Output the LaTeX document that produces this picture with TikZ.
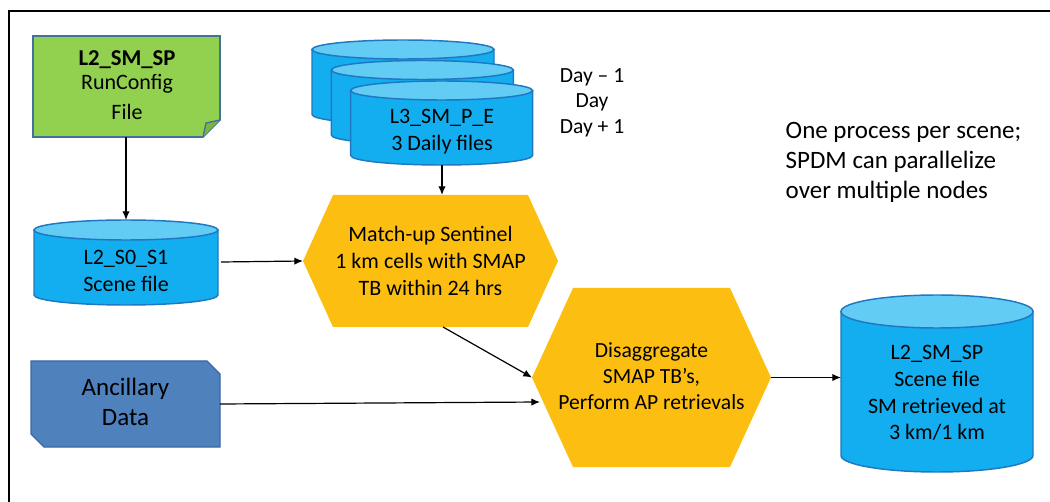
\documentclass[tikz,border=0pt]{standalone}
\usepackage{fontspec}
\setmainfont{Carlito}
\usepackage{tikz}
\usetikzlibrary{arrows.meta}
\definecolor{NoteGreen}{HTML}{92D050}
\definecolor{FoldGreen}{HTML}{7DB33F}
\definecolor{EdgeBlue}{HTML}{41719C}
\definecolor{DiskBody}{HTML}{13AEEF}
\definecolor{DiskTop}{HTML}{63CCF5}
\definecolor{DiskEdge}{HTML}{1F78C1}
\definecolor{HexGold}{HTML}{FCBF11}
\definecolor{AncBlue}{HTML}{4F81BD}
\definecolor{AncEdge}{HTML}{3A68A6}

\begin{document}
\begin{tikzpicture}[x=0.75pt,y=0.75pt,
  arr/.style={-{Latex[length=6.5pt,width=5.5pt]},line width=0.9pt},
  lbl/.style={align=center,font=\fontsize{16.5}{20}\selectfont},
  big/.style={font=\fontsize{18.75}{22.5}\selectfont},
  disk/.style={draw=DiskEdge,line width=1.1pt}]
\useasboundingbox (0,0) rectangle (1050,-502);
%%frame
\draw[line width=1.2pt] (1050,-11) -- (9,-11) -- (9,-502);

%%RunConfig note
\draw[draw=EdgeBlue,line width=1.2pt,fill=NoteGreen] (33,-36) -- (220,-36) -- (220,-120) -- (203,-137) -- (33,-137) -- cycle;
\draw[draw=EdgeBlue,line width=1pt,fill=FoldGreen] (220,-120) -- (206,-123) -- (203,-137);
\node[lbl] (cfg) at (127,-85) {{\fontsize{17}{20}\selectfont\bfseries L2\_SM\_SP}\\[-2pt]RunConfig\\[2pt]File};
\coordinate (cfgbot) at (126,-137);

%%L2_S0_S1 disk
\draw[disk,fill=DiskBody] (34,-230) -- (34,-295) arc[start angle=180,end angle=360,x radius=92,y radius=10] -- (218,-230) -- cycle;
\draw[disk,fill=DiskTop] (126,-230) ellipse [x radius=92,y radius=10];
\node[lbl] (sceneS) at (126,-271) {L2\_S0\_S1\\Scene file};
\coordinate (s0top) at (126,-220);
\coordinate (s0E) at (221,-262);

%%daily disks
\foreach \i in {0,1,2}
{
\pgfmathsetmacro\cx{403+19.3*\i}
\pgfmathsetmacro\ty{-40-20.5*\i}
\draw[disk,fill=DiskBody] (\cx-91,\ty-9.5) -- (\cx-91,\ty-74.5) arc[start angle=180,end angle=360,x radius=91,y radius=9.5] -- (\cx+91,\ty-9.5) -- cycle;
\draw[disk,fill=DiskTop] (\cx,\ty-9.5) ellipse [x radius=91,y radius=9.5];
}
\node[lbl] (daily) at (442,-131.5) {L3\_SM\_P\_E\\3 Daily files};
\coordinate (dailybot) at (442,-165);
\node[align=center,font=\fontsize{16.2}{19}\selectfont] (days) at (592,-102.5) {Day \textendash{} 1\\Day\\Day + 1};

%%match-up hexagon
\draw[fill=HexGold,draw=none] (303,-261) -- (333,-195) -- (528,-195) -- (558,-261) -- (528,-327) -- (333,-327) -- cycle;
\node[lbl] (match) at (430.5,-261) {Match-up Sentinel\\1 km cells with SMAP\\TB within 24 hrs};
\coordinate (matchW) at (303,-261);
\coordinate (matchN) at (442,-195);
\coordinate (matchS) at (443,-327);

%%ancillary data
\draw[draw=AncEdge,line width=1pt,fill=AncBlue] (31,-361) -- (207,-361) -- (220,-374) -- (220,-447) -- (44,-447) -- (31,-434) -- cycle;
\node[big,align=center] (anc) at (125.5,-402) {Ancillary\\Data};
\coordinate (ancE) at (220,-404);

%%disaggregate hexagon
\draw[fill=HexGold,draw=none] (532,-377.5) -- (573,-288) -- (730,-288) -- (771,-377.5) -- (730,-467) -- (573,-467) -- cycle;
\node[lbl,font=\fontsize{16.2}{19.5}\selectfont] (disagg) at (651.5,-376) {Disaggregate\\SMAP TB’s,\\Perform AP retrievals};
\coordinate (disaggW) at (532,-377.5);
\coordinate (disaggE) at (771,-377.5);
\coordinate (disaggL) at (540,-402);

%%L2_SM_SP disk
\draw[disk,fill=DiskBody] (841,-311.5) -- (841,-455.5) arc[start angle=180,end angle=360,x radius=96,y radius=16.5] -- (1033,-311.5) -- cycle;
\draw[disk,fill=DiskTop] (937,-311.5) ellipse [x radius=96,y radius=16.5];
\node[lbl] (scene) at (937,-393) {L2\_SM\_SP\\Scene file\\SM retrieved at\\3 km/1 km};
\coordinate (sceneW) at (841,-377.5);

\node[big,align=left,anchor=west] (note) at (781,-162.5) {One process per scene;\\SPDM can parallelize\\over multiple nodes};

%%arrows
\draw[arr] (cfgbot) -- (s0top);
\draw[arr] (s0E) -- (matchW);
\draw[arr] (dailybot) -- (matchN);
\draw[arr] (matchS) -- (disaggW);
\draw[arr] (ancE) -- (disaggL);
\draw[arr] (disaggE) -- (sceneW);
\end{tikzpicture}
\end{document}
